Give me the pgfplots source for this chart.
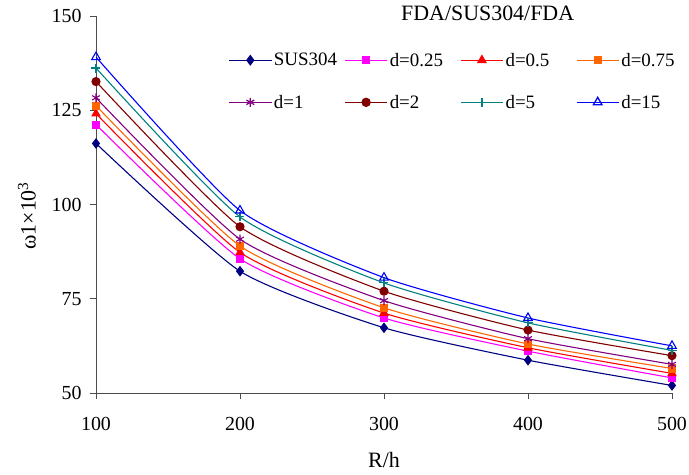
\documentclass[border=0pt]{standalone}
\usepackage{fontspec}
\setmainfont{Liberation Serif}
\usepackage{pgfplots}
\pgfplotsset{compat=1.18}
\definecolor{cnavy}{RGB}{0,0,128}
\definecolor{cmag}{RGB}{255,0,255}
\definecolor{cred}{RGB}{255,0,0}
\definecolor{corange}{RGB}{255,102,0}
\definecolor{cpurple}{RGB}{128,0,128}
\definecolor{cdred}{RGB}{128,0,0}
\definecolor{cteal}{RGB}{0,128,128}
\definecolor{cblue}{RGB}{0,0,255}
\begin{document}
\begin{tikzpicture}
\path[use as bounding box] (-96bp,-82bp) rectangle (593bp,393bp);
\begin{axis}[
  at={(0,0)}, anchor=south west,
  scale only axis, width=576bp, height=377bp,
  xmin=100, xmax=500, ymin=50, ymax=150,
  xtick={100,200,300,400,500}, ytick={50,75,100,125,150},
  axis x line*=bottom, axis y line*=left,
  axis line style={black!70, line width=0.8pt},
  tick style={black!70, line width=0.8pt},
  tick align=outside, major tick length=6bp,
  /pgf/number format/assume math mode=true,
  tick label style={font=\fontsize{20}{22}\selectfont},
  xticklabel style={yshift=-15bp},
  yticklabel style={xshift=-5bp},
  xlabel={R/h}, ylabel={ω1×10\textsuperscript{3}},
  label style={font=\fontsize{22}{24}\selectfont},
  xlabel style={at={(axis description cs:0.5,0)}, anchor=center, yshift=-67bp},
  ylabel style={at={(axis description cs:-0.12,0.47)}, anchor=center},
  title={FDA/SUS304/FDA},
  title style={font=\fontsize{22}{24}\selectfont, at={(axis description cs:0.68,1)}, anchor=center, yshift=-3bp},
  legend columns=4,
  legend style={draw=none, fill=none, inner sep=0pt, at={(axis description cs:0.230,0.908)}, anchor=north west,
    font=\fontsize{19}{21}\selectfont,
    nodes={text width=67bp, anchor=west, inner sep=2bp},
    /tikz/every even column/.append style={column sep=1.5bp},
    row sep=23.5bp},
  legend image code/.code={\draw[line width=1.3pt, mark repeat=2,mark phase=2] plot coordinates {(0bp,0bp) (21bp,0bp) (42bp,0bp)};},
  every axis plot/.append style={line width=1.1pt, smooth, tension=0.35},
]
\addplot[color=cnavy, mark=diamond*, mark size=4.5bp, mark options={solid}] coordinates {(100,116.2) (200,82.3) (300,67.3) (400,58.7) (500,52.0)};
\addlegendentry{SUS304}
\addplot[color=cmag, mark=square*, mark size=3.5bp] coordinates {(100,121.2) (200,85.6) (300,69.9) (400,61.1) (500,54.0)};
\addlegendentry{d=0.25}
\addplot[color=cred, mark=triangle*, mark size=4.5bp] coordinates {(100,124.1) (200,87.3) (300,71.2) (400,62.0) (500,55.2)};
\addlegendentry{d=0.5}
\addplot[color=corange, mark=square*, mark size=3.5bp] coordinates {(100,126.2) (200,89.0) (300,72.6) (400,63.0) (500,56.5)};
\addlegendentry{d=0.75}
\addplot[color=cpurple, mark=asterisk, mark size=4.5bp] coordinates {(100,128.3) (200,90.8) (300,74.5) (400,64.4) (500,57.6)};
\addlegendentry{d=1}
\addplot[color=cdred, mark=*, mark size=4bp] coordinates {(100,132.6) (200,94.1) (300,77.0) (400,66.7) (500,59.9)};
\addlegendentry{d=2}
\addplot[color=cteal, mark=+, mark size=4.5bp] coordinates {(100,136.2) (200,96.7) (300,79.2) (400,68.6) (500,61.3)};
\addlegendentry{d=5}
\addplot[color=cblue, mark=triangle, mark size=5bp, mark options={fill=white}] coordinates {(100,139.1) (200,98.4) (300,80.6) (400,69.9) (500,62.5)};
\addlegendentry{d=15}
\end{axis}
\end{tikzpicture}
\end{document}
